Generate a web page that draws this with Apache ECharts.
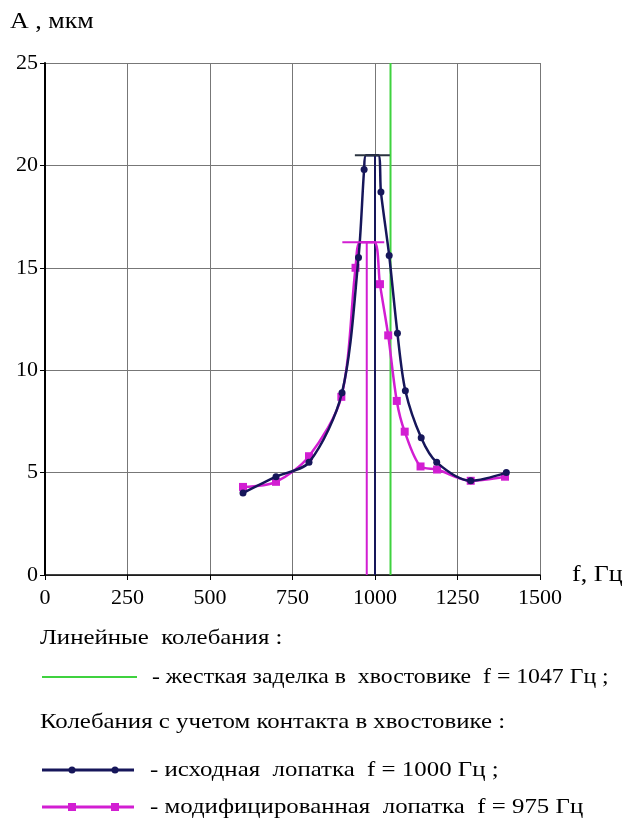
<!DOCTYPE html>
<html>
<head>
<meta charset="utf-8">
<script src="https://cdn.jsdelivr.net/npm/echarts@6/dist/echarts.min.js"></script>
<style>
  html, body { margin: 0; padding: 0; background: #fff; }
  #chart { width: 631px; height: 823px; }
</style>
</head>
<body>
<div id="chart"></div>
<script>
// исходная лопатка (точки с маркерами)
const origFreq = [600, 700, 800, 900, 950, 967, 1018, 1043, 1068, 1092, 1140, 1187, 1290, 1398];
const origAmp = [4.0, 4.8, 5.5, 8.9, 15.5, 19.8, 18.7, 15.6, 11.8, 9.0, 6.7, 5.5, 4.6, 5.0];
const origPeakFreq = [973, 1010]; // срез вершины
const origPeakAmp = 20.5;
const origPeakBar = [939, 1045];
const origResF = 1000;

// модифицированная лопатка
const modFreq = [600, 700, 800, 898, 941, 1015, 1040, 1066, 1090, 1138, 1188, 1290, 1394];
const modAmp = [4.3, 4.55, 5.8, 8.7, 15.0, 14.2, 11.7, 8.5, 7.0, 5.3, 5.15, 4.6, 4.8];
const modPeakFreq = [955, 998];
const modPeakAmp = 16.25;
const modPeakBar = [901, 1028];
const modResF = 975;

// линейные колебания
const linearResF = 1047;

const xTicks = [0, 250, 500, 750, 1000, 1250, 1500];
const yTicks = [0, 5, 10, 15, 20, 25];

const NAVY = "#16165a";
const MAGENTA = "#d21ed2";
const GREEN = "#3fd23f";
const SERIF = "'Liberation Serif', 'DejaVu Serif', serif";

function buildCurve(freq, amp, peakF, peakA) {
  let pts = freq.map((f, i) => ({ value: [f, amp[i]] }));
  peakF.forEach((f) => pts.push({ value: [f, peakA], symbol: "none" }));
  return pts.sort((a, b) => a.value[0] - b.value[0]);
}

// текст подписи, слегка растянутый по горизонтали как в оригинале
function label(x, y, text, size, sx) {
  return {
    type: "text",
    x: x,
    y: y,
    scaleX: sx || 1.13,
    style: {
      text: text,
      font: size + "px " + SERIF,
      fill: "#000",
      verticalAlign: "middle",
    },
  };
}

const chart = echarts.init(document.getElementById("chart"));
chart.setOption({
  animation: false,
  backgroundColor: "#fff",
  grid: { left: 45, right: 91, top: 63, bottom: 248 },
  xAxis: {
    type: "value",
    min: xTicks[0],
    max: xTicks[xTicks.length - 1],
    interval: 250,
    axisLine: { lineStyle: { color: "#000", width: 1.5 } },
    axisTick: { show: true, length: 5, lineStyle: { color: "#000" } },
    axisLabel: {
      color: "#000",
      fontFamily: SERIF,
      fontSize: 22,
      margin: 12,
      formatter: (v) => String(v),
    },
    splitLine: { show: true, lineStyle: { color: "#777", width: 1 } },
  },
  yAxis: {
    type: "value",
    min: yTicks[0],
    max: yTicks[yTicks.length - 1],
    interval: 5,
    axisLine: { show: true, lineStyle: { color: "#000", width: 2 } },
    axisTick: { show: true, length: 5, lineStyle: { color: "#000" } },
    axisLabel: { color: "#000", fontFamily: SERIF, fontSize: 22, margin: 7 },
    splitLine: { show: true, lineStyle: { color: "#777", width: 1 } },
  },
  series: [
    {
      name: "линейные",
      type: "line",
      data: [[linearResF, 0], [linearResF, 25]],
      symbol: "none",
      lineStyle: { color: GREEN, width: 2 },
      z: 3,
    },
    {
      name: "исходная рез",
      type: "line",
      data: [[origResF, 0], [origResF, origPeakAmp]],
      symbol: "none",
      lineStyle: { color: NAVY, width: 2 },
      z: 2,
    },
    {
      name: "мод рез",
      type: "line",
      data: [[modResF, 0], [modResF, modPeakAmp]],
      symbol: "none",
      lineStyle: { color: MAGENTA, width: 2 },
      z: 2,
    },
    {
      name: "исходная пик",
      type: "line",
      data: [[origPeakBar[0], origPeakAmp], [origPeakBar[1], origPeakAmp]],
      symbol: "none",
      lineStyle: { color: "#2b3440", width: 2 },
      z: 6,
    },
    {
      name: "мод пик",
      type: "line",
      data: [[modPeakBar[0], modPeakAmp], [modPeakBar[1], modPeakAmp]],
      symbol: "none",
      lineStyle: { color: MAGENTA, width: 2 },
      z: 6,
    },
    {
      name: "исходная",
      type: "line",
      data: buildCurve(origFreq, origAmp, origPeakFreq, origPeakAmp),
      smooth: 0.3,
      symbol: "circle",
      symbolSize: 7,
      itemStyle: { color: NAVY },
      lineStyle: { color: NAVY, width: 2.5 },
      z: 5,
    },
    {
      name: "модифицированная",
      type: "line",
      data: buildCurve(modFreq, modAmp, modPeakFreq, modPeakAmp),
      smooth: 0.3,
      symbol: "rect",
      symbolSize: 8,
      itemStyle: { color: MAGENTA },
      lineStyle: { color: MAGENTA, width: 2.5 },
      z: 4,
    },
  ],
  graphic: [
    label(10, 22, "A , мкм", 23),
    label(572, 575, "f, Гц", 23),
    label(40, 638, "Линейные  колебания :", 22),
    { type: "line", shape: { x1: 42, y1: 677, x2: 137, y2: 677 }, style: { stroke: GREEN, lineWidth: 2 } },
    label(152, 677, "- жесткая заделка в  хвостовике  f = 1047 Гц ;", 22, 1.08),
    label(40, 722, "Колебания с учетом контакта в хвостовике :", 22),
    { type: "line", shape: { x1: 42, y1: 770, x2: 134, y2: 770 }, style: { stroke: NAVY, lineWidth: 3 } },
    { type: "circle", shape: { cx: 72, cy: 770, r: 3.5 }, style: { fill: NAVY } },
    { type: "circle", shape: { cx: 115, cy: 770, r: 3.5 }, style: { fill: NAVY } },
    label(150, 770, "- исходная  лопатка  f = 1000 Гц ;", 22),
    { type: "line", shape: { x1: 42, y1: 807, x2: 134, y2: 807 }, style: { stroke: MAGENTA, lineWidth: 3 } },
    { type: "rect", shape: { x: 68, y: 803, width: 8, height: 8 }, style: { fill: MAGENTA } },
    { type: "rect", shape: { x: 111, y: 803, width: 8, height: 8 }, style: { fill: MAGENTA } },
    label(150, 807, "- модифицированная  лопатка  f = 975 Гц", 22),
  ],
});
</script>
</body>
</html>
